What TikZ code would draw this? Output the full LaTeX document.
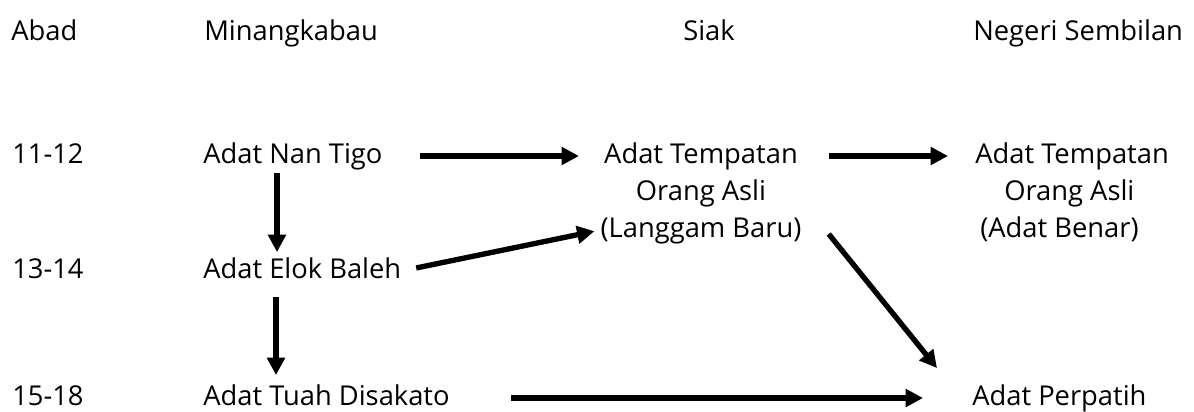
\documentclass[tikz,border=0pt]{standalone}
\usepackage{fontspec}
\setmainfont{Open Sans}
\usetikzlibrary{arrows.meta}
\begin{document}
\begin{tikzpicture}[x=0.75pt,y=-0.75pt,
    lbl/.style={anchor=base west, inner sep=0pt, font=\fontsize{20.5}{27}\selectfont, text height=15.5pt, text depth=5pt},
    ctr/.style={lbl, anchor=base},
    arr/.style={line width=4pt, -{Triangle[length=13pt,width=13pt]}}]
        \useasboundingbox (0,0) rectangle (1194,411);

        \node[lbl] (abad) at (11,40) {Abad};
        \node[lbl] (minang) at (204,40) {Minangkabau};
        \node[lbl] (siak) at (683,40) {Siak};
        \node[lbl] (negeri) at (973,40) {Negeri Sembilan};

        \node[lbl] (y1) at (12,163) {11-12};
        \node[lbl] (y2) at (12,278) {13-14};
        \node[lbl] (y3) at (12,405) {15-18};

        \node[lbl] (nantigo) at (203,163) {Adat Nan Tigo};
        \node[lbl] (elok) at (203,278) {Adat Elok Baleh};
        \node[lbl] (tuah) at (203,405) {Adat Tuah Disakato};

        \node[ctr] (sa) at (701,163) {Adat Tempatan};
        \node[ctr] (sb) at (701,200) {Orang Asli};
        \node[ctr] (sc) at (701,237) {(Langgam Baru)};

        \node[lbl] (na) at (975,163) {Adat Tempatan};
        \node[lbl] (nb) at (1004,200) {Orang Asli};
        \node[lbl] (nc) at (980,237) {(Adat Benar)};
        \node[lbl] (perpatih) at (972,405) {Adat Perpatih};

        \draw[arr, shorten <=27.75pt, shorten >=18.75pt] (nantigo.east) -- (sa.west);
        \draw[arr, shorten <=23.25pt, shorten >=20.25pt] (sa.east) -- (na.west);
        \draw[arr] ([shift={(74,3)}]nantigo.south west) -- ([shift={(74,-5)}]elok.north west);
        \draw[arr] ([shift={(73,12)}]elok.south west) -- ([shift={(73,-9)}]tuah.north west);
        \draw[arr, shorten <=11.25pt, shorten >=4.5pt] (elok.east) -- (sc.west);
        \draw[arr] ([shift={(27,4)}]sc.east) -- ([shift={(-35,-16)}]perpatih.north west);
        \draw[arr, shorten <=45.75pt, shorten >=36.75pt] (tuah.east) -- (perpatih.west);

    \end{tikzpicture}
\end{document}
